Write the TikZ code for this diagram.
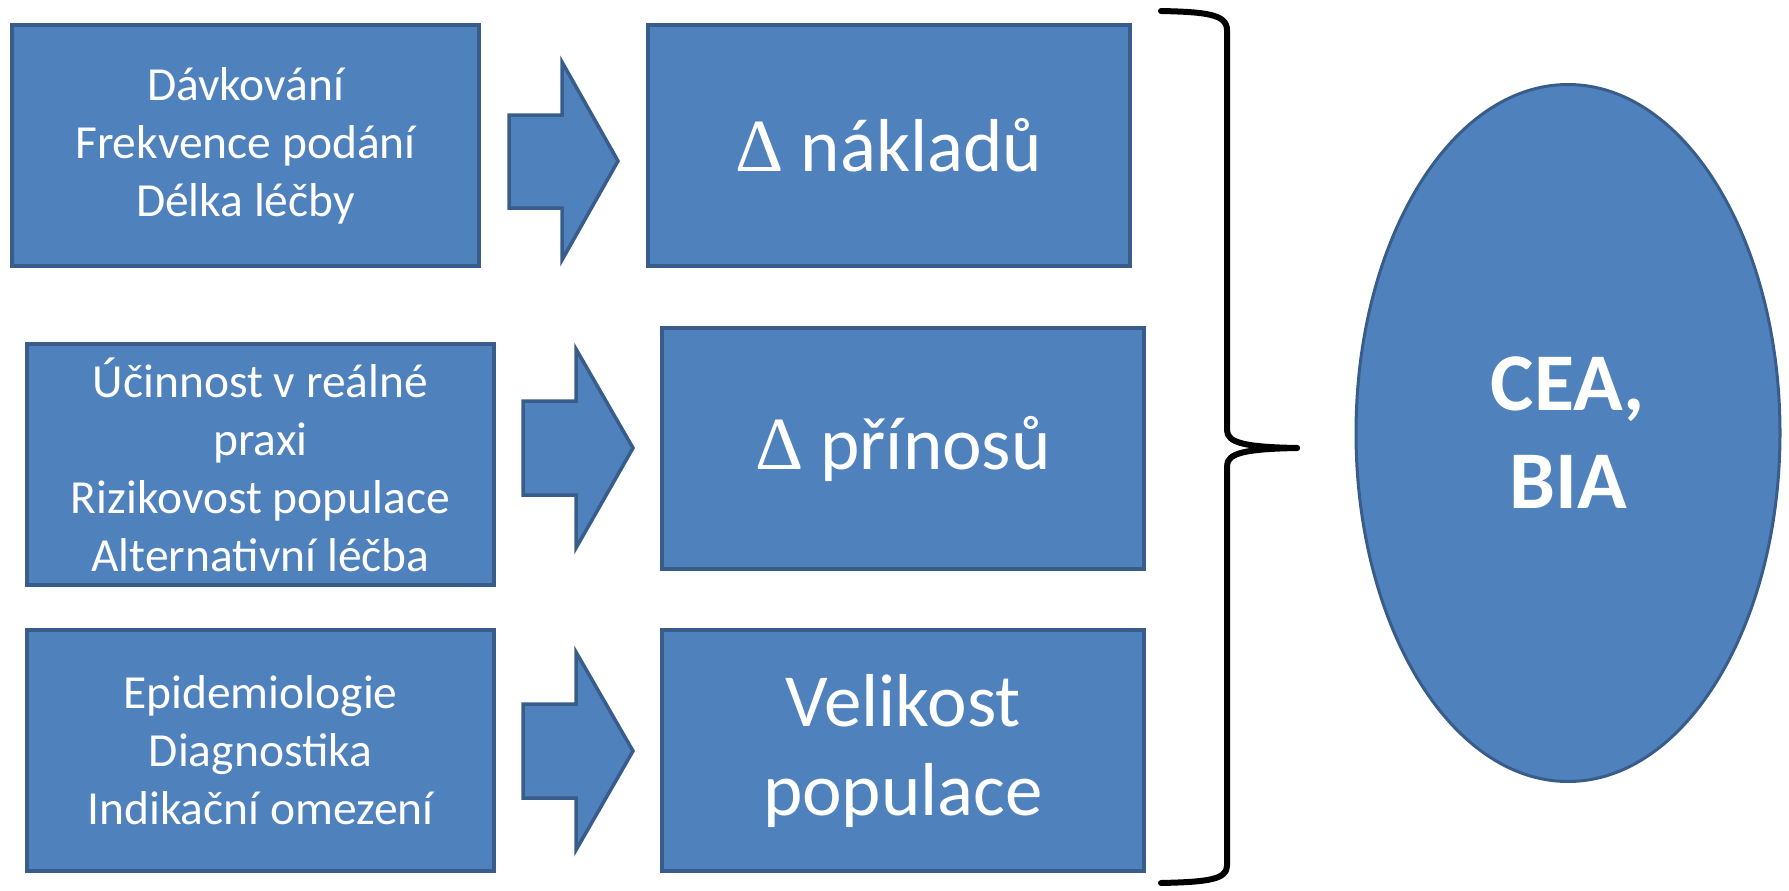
\documentclass[tikz,border=0pt]{standalone}
\usepackage{fontspec}
\setmainfont{Carlito}
\newfontfamily\deltafont{Liberation Serif}
\usetikzlibrary{shapes.geometric}
\definecolor{boxfill}{HTML}{4F81BD}
\definecolor{boxline}{HTML}{385D8A}
\tikzset{
  smallbox/.style={draw=boxline, fill=boxfill, line width=3.5pt, rectangle, inner sep=0pt,
    minimum width=467pt, minimum height=241pt, text=white, align=center,
    font=\fontsize{47.5}{58}\selectfont},
  bigbox/.style={draw=boxline, fill=boxfill, line width=3.5pt, rectangle, inner sep=0pt,
    minimum width=482pt, minimum height=241pt, text=white, align=center,
    font=\fontsize{75}{89}\selectfont},
  blockarrow/.style={draw=boxline, fill=boxfill, line width=3.5pt, line join=miter},
  bracestyle/.style={draw=black, line width=6pt, line cap=round, line join=round},
  resultnode/.style={draw=boxline, fill=boxfill, line width=3pt, ellipse, inner sep=0pt,
    minimum width=424pt, minimum height=697pt, text=white, align=center,
    font=\fontsize{82}{98}\selectfont\bfseries}
}
\begin{document}
\begin{tikzpicture}[x=1pt,y=-1pt]
\useasboundingbox (0,0) rectangle (1789,891);
% left boxes
\node[smallbox] (b1) at (245.5,145.5) {Dávkování\\Frekvence podání\\Délka léčby};
\node[smallbox] (b3) at (260.5,464.5) {Účinnost v reálné\\praxi\\Rizikovost populace\\Alternativní léčba};
\node[smallbox] (b5) at (260.5,750.5) {Epidemiologie\\Diagnostika\\Indikační omezení};
% right boxes
\node[bigbox] (b2) at (889,145.5) {{\deltafont Δ} nákladů};
\node[bigbox] (b4) at (903,448.5) {{\deltafont Δ} přínosů};
\node[bigbox] (b6) at (903,750.5) {Velikost\\populace};
% block arrows
\draw[blockarrow] (509,115) -- (562,115) -- (562,62) -- (618,161) -- (562,260) -- (562,208) -- (509,208) -- cycle;
\draw[blockarrow] (523,401) -- (576,401) -- (576,349) -- (633,448) -- (576,548) -- (576,495) -- (523,495) -- cycle;
\draw[blockarrow] (523,704) -- (576,704) -- (576,652) -- (633,751) -- (576,850) -- (576,798) -- (523,798) -- cycle;
% brace
\draw[bracestyle] (1161,11) .. controls (1205,12) and (1227,14) .. (1227,30)
  -- (1227,430) .. controls (1227,443) and (1245,447) .. (1297,448);
\draw[bracestyle] (1297,448) .. controls (1245,449) and (1227,453) .. (1227,466)
  -- (1227,866) .. controls (1227,880) and (1205,882) .. (1161,883);
% result ellipse
\node[resultnode] (res) at (1568,433) {CEA,\\BIA};
\end{tikzpicture}
\end{document}
